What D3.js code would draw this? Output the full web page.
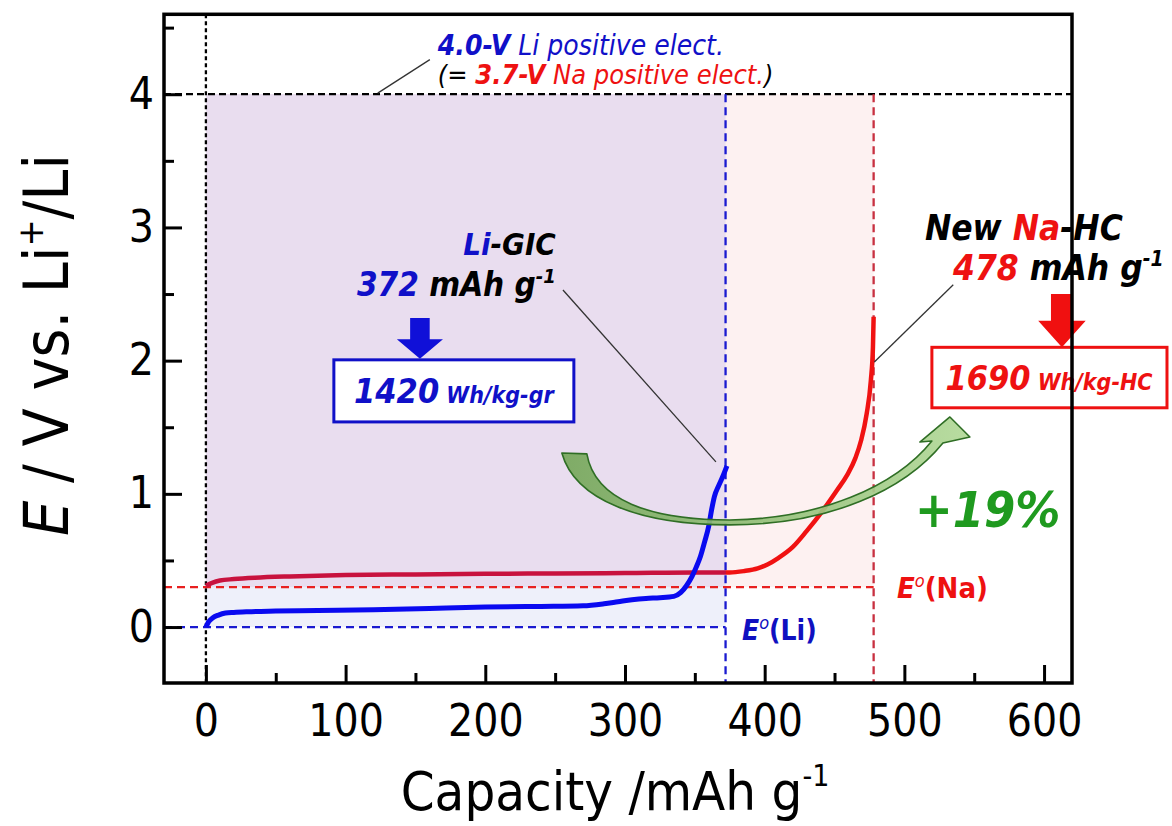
<!DOCTYPE html>
<html><head><meta charset="utf-8">
<script src="https://cdn.jsdelivr.net/npm/d3@7"></script>
<style>body{margin:0;background:#fff}</style>
</head><body><svg id="c" width="1172" height="826"></svg>
<script>
// ---------- data ----------
const xTicks = [0, 100, 200, 300, 400, 500, 600];
const xMinor = [50, 150, 250, 350, 450, 550];
const yTicks = [0, 1, 2, 3, 4];
const yMinor = [0.5, 1.5, 2.5, 3.5, 4.5];

// Li-GIC (graphite) curve
const liCap = [0, 2, 5, 9, 14, 20, 30, 50, 80, 120, 160, 200, 240, 270, 285, 295, 305, 315, 325, 335, 340, 344, 348, 351, 354, 357, 360, 362, 364, 367, 370, 373];
const liE   = [0, 0.04, 0.07, 0.09, 0.105, 0.11, 0.115, 0.12, 0.125, 0.13, 0.14, 0.15, 0.155, 0.16, 0.175, 0.19, 0.205, 0.215, 0.22, 0.23, 0.26, 0.31, 0.38, 0.45, 0.53, 0.64, 0.76, 0.88, 0.98, 1.06, 1.13, 1.21];
// New Na-HC (hard carbon) curve
const naCap = [0, 4, 10, 20, 35, 60, 100, 150, 200, 250, 300, 350, 375, 385, 395, 402, 410, 420, 430, 442, 452, 459, 465, 469, 473, 476, 477.5, 478];
const naE   = [0.31, 0.33, 0.35, 0.36, 0.37, 0.38, 0.39, 0.395, 0.4, 0.402, 0.405, 0.41, 0.41, 0.42, 0.44, 0.47, 0.52, 0.6, 0.72, 0.88, 1.03, 1.14, 1.27, 1.4, 1.6, 1.85, 2.1, 2.33];

const capLi = 372, capNa = 478;
const eLi = 0, eNa = 0.3, vPos = 4.0;

// ---------- setup ----------
const svg = d3.select('#c');
const x = d3.scaleLinear().domain([-30, 620]).range([164, 1072]);
const y = d3.scaleLinear().domain([-0.42, 4.6]).range([683, 14.3]);
const F = "'DejaVu Sans Condensed','Liberation Sans Narrow','Liberation Sans',sans-serif";

// ---------- shading ----------
svg.append('rect').attr('x', x(0)).attr('y', y(vPos)).attr('width', x(capLi) - x(0)).attr('height', y(eLi) - y(vPos)).attr('fill', '#eef0fa');
svg.append('rect').attr('x', x(0)).attr('y', y(vPos)).attr('width', x(capNa) - x(0)).attr('height', y(eNa) - y(vPos)).attr('fill', '#fdf1f1');
svg.append('rect').attr('x', x(0)).attr('y', y(vPos)).attr('width', x(capLi) - x(0)).attr('height', y(eNa) - y(vPos)).attr('fill', '#e9ddef');

// ---------- reference lines ----------
const [xl, xr] = x.range();
const [yb, yt] = y.range();
function ref(x1, y1, x2, y2, col, dash) {
  svg.append('line').attr('x1', x1).attr('y1', y1).attr('x2', x2).attr('y2', y2)
    .attr('stroke', col).attr('stroke-width', 2.3).attr('stroke-dasharray', dash);
}
ref(x(0), yt, x(0), yb, '#000', '4,3');
ref(xl, y(vPos), xr, y(vPos), '#000', '7,4');
ref(xl, y(eLi), x(capLi), y(eLi), '#1a1ad0', '8,5');
ref(x(capLi), y(vPos), x(capLi), yb, '#1a1ad0', '8,5');
ref(xl, y(eNa), x(capNa), y(eNa), '#e82020', '8,5');
ref(x(capNa), y(vPos), x(capNa), yb, '#c83040', '8,5');

// ---------- curves ----------
const defs = svg.append('defs');
const rg = defs.append('linearGradient').attr('id', 'redg').attr('gradientUnits', 'userSpaceOnUse')
  .attr('x1', x(0)).attr('x2', x(capNa)).attr('y1', 0).attr('y2', 0);
const stopF = capLi / capNa;
rg.append('stop').attr('offset', 0).attr('stop-color', '#c8123e');
rg.append('stop').attr('offset', stopF).attr('stop-color', '#c8123e');
rg.append('stop').attr('offset', stopF).attr('stop-color', '#f01212');
rg.append('stop').attr('offset', 1).attr('stop-color', '#f01212');

const line = d3.line().x(d => x(d[0])).y(d => y(d[1])).curve(d3.curveMonotoneX);
svg.append('path').datum(d3.zip(naCap, naE)).attr('d', line).attr('fill', 'none')
  .attr('stroke', 'url(#redg)').attr('stroke-width', 4.5).attr('stroke-linejoin', 'round');
svg.append('path').datum(d3.zip(liCap, liE)).attr('d', line).attr('fill', 'none')
  .attr('stroke', '#0a0af0').attr('stroke-width', 5).attr('stroke-linejoin', 'round');

// ---------- green curved arrow ----------
const P = (a, b) => x(a) + ',' + y(b);
const gg = defs.append('linearGradient').attr('id', 'grg').attr('x1', 0).attr('x2', 1).attr('y1', 0).attr('y2', 0);
gg.append('stop').attr('offset', 0).attr('stop-color', '#76a75b');
gg.append('stop').attr('offset', 1).attr('stop-color', '#b2d998');
const arrowD = 'M' + P(254.8, 1.307) +
  ' C' + P(264.1, 0.954) + ' ' + P(310.7, 0.767) + ' ' + P(375.1, 0.767) +
  ' C' + P(446.7, 0.767) + ' ' + P(500.4, 1.029) + ' ' + P(527.6, 1.382) +
  ' L' + P(546.9, 1.427) + ' L' + P(532.6, 1.577) + ' L' + P(511.1, 1.389) + ' L' + P(519.7, 1.397) +
  ' C' + P(493.2, 1.052) + ' ' + P(439.5, 0.812) + ' ' + P(375.1, 0.804) +
  ' C' + P(317.8, 0.804) + ' ' + P(278.5, 0.954) + ' ' + P(272.7, 1.300) + ' Z';
svg.append('path').attr('d', arrowD).attr('fill', 'url(#grg)').attr('fill-opacity', 0.92)
  .attr('stroke', '#2f6e25').attr('stroke-width', 1.6).attr('stroke-linejoin', 'round');

// ---------- annotations ----------
function rich(px, py, anchor, size, parts) {
  const t = svg.append('text').attr('x', px).attr('y', py).attr('text-anchor', anchor)
    .style('font-family', F).style('font-size', size + 'px');
  parts.forEach(p => {
    const s = t.append('tspan').text(p.t).attr('fill', p.c || '#000')
      .style('font-weight', p.w || 'bold').style('font-style', p.i === false ? 'normal' : 'italic');
    if (p.s) s.style('font-size', p.s + 'px');
    if (p.dy) s.attr('dy', p.dy);
  });
  return t;
}
const BL = '#1010c8', RD = '#ee1111';
function leader(a1, b1, a2, b2) {
  svg.append('line').attr('x1', x(a1)).attr('y1', y(b1)).attr('x2', x(a2)).attr('y2', y(b2))
    .attr('stroke', '#333').attr('stroke-width', 1.3);
}
// top note
rich(x(166), y(4.295), 'start', 28, [{t: '4.0-V', c: BL}, {t: ' Li positive elect.', c: BL, w: 'normal'}]);
rich(x(166), y(4.077), 'start', 27, [{t: '(= ', w: 'normal'}, {t: '3.7-V', c: RD}, {t: ' Na positive elect.', c: RD, w: 'normal'}, {t: ')', w: 'normal'}]);
leader(123, 4.008, 160.3, 4.26);

// Li-GIC
rich(x(250.5), y(2.79), 'end', 31, [{t: 'Li', c: BL}, {t: '-GIC'}]);
rich(x(250.5), y(2.485), 'end', 33, [{t: '372', c: BL}, {t: ' mAh g'}, {t: '-1', s: 20, dy: -13}]);
leader(255.6, 2.53, 365.1, 1.24);

function downArrow(cx, top, headTop, tip, shaftW, headW, col) {
  const d = 'M' + P(cx - shaftW / 2, top) + ' L' + P(cx + shaftW / 2, top) + ' L' + P(cx + shaftW / 2, headTop) +
    ' L' + P(cx + headW / 2, headTop) + ' L' + P(cx, tip) + ' L' + P(cx - headW / 2, headTop) +
    ' L' + P(cx - shaftW / 2, headTop) + ' Z';
  svg.append('path').attr('d', d).attr('fill', col);
}
downArrow(153.2, 2.32, 2.16, 2.015, 14, 33, '#1010d8');
svg.append('rect').attr('x', x(91.6)).attr('y', y(2.006)).attr('width', x(263.4) - x(91.6)).attr('height', y(1.54) - y(2.006))
  .attr('fill', '#fff').attr('stroke', '#1010c8').attr('stroke-width', 3);
rich(x(177.5), y(1.68), 'middle', 34, [{t: '1420', c: BL}, {t: ' Wh/kg-gr', c: BL, s: 23}]);

// Na-HC
rich(x(514.7), y(2.905), 'start', 35, [{t: 'New '}, {t: 'Na', c: RD}, {t: '-HC'}]);
rich(x(534.8), y(2.605), 'start', 35, [{t: '478', c: RD}, {t: ' mAh g'}, {t: '-1', s: 21, dy: -14}]);
leader(478.5, 1.99, 535.0, 2.57);
downArrow(612.8, 2.50, 2.30, 2.10, 15.7, 34, '#f01010');
svg.append('rect').attr('x', x(519.7)).attr('y', y(2.10)).attr('width', x(688) - x(519.7)).attr('height', y(1.646) - y(2.10))
  .attr('fill', '#fff').attr('stroke', '#ee1111').attr('stroke-width', 3);
rich(x(603.5), y(1.78), 'middle', 34, [{t: '1690', c: RD}, {t: ' Wh/kg-HC', c: RD, s: 23}]);

// +19%
rich(x(507.6), y(0.75), 'start', 50, [{t: '+19%', c: '#1f9a1f'}]);

// E°(Li), E°(Na)
rich(x(383.7), y(-0.1), 'start', 28, [{t: 'E', c: '#1010c0'}, {t: 'o', c: '#1010c0', w: 'normal', s: 18, dy: -11}, {t: '(Li)', c: '#1010c0', i: false, dy: 11}]);
rich(x(494.7), y(0.22), 'start', 29, [{t: 'E', c: RD}, {t: 'o', c: RD, w: 'normal', s: 18, dy: -11}, {t: '(Na)', c: RD, i: false, dy: 11}]);

// ---------- axes & frame ----------
svg.append('rect').attr('x', xl).attr('y', yt).attr('width', xr - xl).attr('height', yb - yt)
  .attr('fill', 'none').attr('stroke', '#000').attr('stroke-width', 3.5);

const ax = svg.append('g').attr('transform', `translate(0,${yb})`)
  .call(d3.axisBottom(x).tickValues(xTicks).tickSizeInner(-18).tickSizeOuter(0).tickPadding(22).tickFormat(d3.format('d')));
const axm = svg.append('g').attr('transform', `translate(0,${yb})`)
  .call(d3.axisBottom(x).tickValues(xMinor).tickSizeInner(-10).tickSizeOuter(0).tickFormat(''));
const ay = svg.append('g').attr('transform', `translate(${xl},0)`)
  .call(d3.axisLeft(y).tickValues(yTicks).tickSizeInner(-18).tickSizeOuter(0).tickPadding(10).tickFormat(d3.format('d')));
const aym = svg.append('g').attr('transform', `translate(${xl},0)`)
  .call(d3.axisLeft(y).tickValues(yMinor).tickSizeInner(-10).tickSizeOuter(0).tickFormat(''));
[ax, axm, ay, aym].forEach(g => {
  g.select('.domain').remove();
  g.selectAll('.tick line').attr('stroke', '#000').attr('stroke-width', 3);
  g.selectAll('.tick text').attr('fill', '#000').style('font-family', F).style('font-size', '44px');
});
ax.selectAll('.tick text').attr('dy', '0.71em');

// axis titles
rich(615, 810, 'middle', 54, [{t: 'Capacity /mAh g', w: 'normal', i: false}, {t: '-1', w: 'normal', i: false, s: 30, dy: -24}]);
const yt2 = svg.append('text').attr('transform', 'translate(68,345) rotate(-90)').attr('text-anchor', 'middle')
  .style('font-family', F).style('font-size', '62px');
yt2.append('tspan').text('E').style('font-style', 'italic');
yt2.append('tspan').text(' / V vs. Li');
yt2.append('tspan').text('+').style('font-size', '36px').attr('dy', -25);
yt2.append('tspan').text('/Li').attr('dy', 25);
</script></body></html>
